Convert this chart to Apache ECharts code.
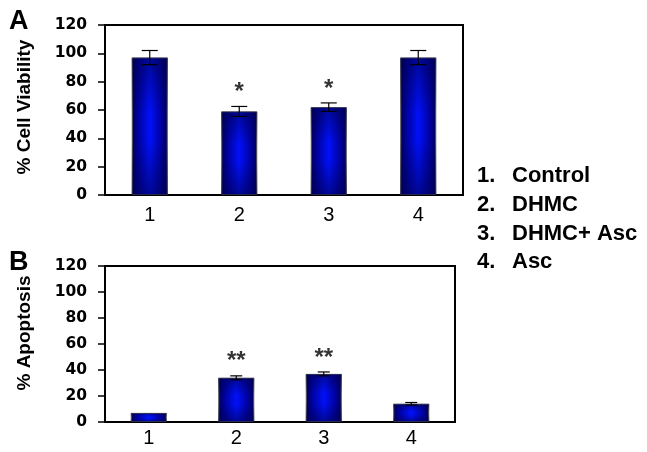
<!DOCTYPE html>
<html><head><meta charset="utf-8">
<script src="https://cdn.jsdelivr.net/npm/echarts@6/dist/echarts.min.js"></script>
<style>html,body{margin:0;padding:0;background:#fff}#c{width:647px;height:452px}</style>
</head><body><div id="c"></div>
<script>
var categories = ['1', '2', '3', '4'];
var viabilityMean = [97, 59, 62, 97];
var viabilityErr = [5, 3.5, 3, 5];
var viabilitySig = ['', '*', '*', ''];
var apoptosisMean = [7, 34, 37, 14];
var apoptosisErr = [0, 1.5, 1.5, 1];
var apoptosisSig = ['', '**', '**', ''];
var yTicks = [0, 20, 40, 60, 80, 100, 120];
var legendNums = ['1.', '2.', '3.', '4.'];
var legendLabels = ['Control', 'DHMC', 'DHMC+ Asc', 'Asc'];
var panelLetters = ['A', 'B'];
var yNames = ['% Cell Viability', '% Apoptosis'];

var chart = echarts.init(document.getElementById('c'), null, {renderer: 'canvas'});
var FONT = 'Liberation Sans, Arial, sans-serif';

var hGrad = new echarts.graphic.LinearGradient(0, 0, 1, 0, [
  {offset: 0, color: '#000050'}, {offset: 0.15, color: '#000096'}, {offset: 0.5, color: '#0010fa'},
  {offset: 0.85, color: '#000096'}, {offset: 1, color: '#000050'}]);
var vGrad = new echarts.graphic.LinearGradient(0, 0, 0, 1, [
  {offset: 0, color: 'rgba(0,0,70,0.55)'}, {offset: 0.4, color: 'rgba(0,0,70,0)'},
  {offset: 0.6, color: 'rgba(0,0,70,0)'}, {offset: 1, color: 'rgba(0,0,70,0.55)'}]);

function errRender(capW) {
  return function (params, api) {
    var x = api.value(0), m = api.value(1), e = api.value(2);
    if (!e) return null;
    var hi = api.coord([x, m + e]), lo = api.coord([x, m - e]);
    var st = {stroke: '#000', lineWidth: 1.2};
    return {type: 'group', children: [
      {type: 'line', shape: {x1: hi[0], y1: hi[1], x2: lo[0], y2: lo[1]}, style: st},
      {type: 'line', shape: {x1: hi[0] - capW / 2, y1: hi[1], x2: hi[0] + capW / 2, y2: hi[1]}, style: st},
      {type: 'line', shape: {x1: lo[0] - capW / 2, y1: lo[1], x2: lo[0] + capW / 2, y2: lo[1]}, style: st}
    ]};
  };
}

function yAxisCfg(gi, name, pad) {
  return {
    type: 'value', gridIndex: gi, min: 0, max: 120, interval: 20,
    name: name, nameLocation: 'middle', nameGap: 71,
    nameTextStyle: {fontFamily: FONT, fontWeight: 'bold', fontSize: 19, color: '#000', padding: pad},
    axisLine: {show: true, lineStyle: {color: '#000', width: 2}},
    axisTick: {show: true, length: 7, lineStyle: {color: '#000', width: 1.5}},
    axisLabel: {margin: 18, fontFamily: 'DejaVu Sans', fontWeight: 'bold', fontSize: 15.5, color: '#000',
      formatter: function (v) { return yTicks.indexOf(v) >= 0 ? String(v) : ''; }},
    splitLine: {show: false}
  };
}
function xAxisCfg(gi, margin) {
  return {
    type: 'category', gridIndex: gi, data: categories,
    axisLine: {show: true, lineStyle: {color: '#000', width: 2}},
    axisTick: {show: false},
    axisLabel: {margin: margin, fontFamily: FONT, fontSize: 20, color: '#000'}
  };
}
function seriesFor(gi, mean, err, sig, capW) {
  var idx = gi;
  return [
    {type: 'bar', xAxisIndex: idx, yAxisIndex: idx, data: mean, barWidth: 36, barGap: '-100%',
      itemStyle: {color: hGrad, borderColor: '#555', borderWidth: 1}, silent: true, z: 2},
    {type: 'bar', xAxisIndex: idx, yAxisIndex: idx, data: mean, barWidth: 36, barGap: '-100%',
      itemStyle: {color: vGrad}, silent: true, z: 3},
    {type: 'custom', xAxisIndex: idx, yAxisIndex: idx, renderItem: errRender(capW), z: 5,
      encode: {x: 0, y: 1},
      data: mean.map(function (m, i) { return [i, m, err[i]]; })},
    {type: 'scatter', xAxisIndex: idx, yAxisIndex: idx, symbolSize: 0, z: 6,
      data: mean.map(function (m, i) { return [i, m + err[i]]; }),
      label: {show: true, position: 'top', distance: 2, fontFamily: FONT, fontWeight: 'bold', fontSize: 24,
        color: '#000', formatter: function (p) { return sig[p.dataIndex]; }}}
  ];
}

var graphics = [
  {type: 'text', left: 9, top: 8, style: {text: panelLetters[0], font: 'bold 27px ' + FONT, fill: '#000'}},
  {type: 'text', left: 9, top: 249, style: {text: panelLetters[1], font: 'bold 27px ' + FONT, fill: '#000'}}
];
var rowY = [176, 205, 234, 262];
for (var i = 0; i < legendLabels.length; i++) {
  graphics.push({type: 'text', x: 477, y: rowY[i], style: {text: legendNums[i], font: 'bold 22px ' + FONT, fill: '#000', verticalAlign: 'middle'}});
  graphics.push({type: 'text', x: 512, y: rowY[i], style: {text: legendLabels[i], font: 'bold 22px ' + FONT, fill: '#000', verticalAlign: 'middle'}});
}

chart.setOption({
  animation: false,
  backgroundColor: '#fff',
  grid: [
    {left: 105, top: 25, width: 358, height: 170, show: true, borderColor: '#000', borderWidth: 2, backgroundColor: 'transparent'},
    {left: 105, top: 266, width: 350, height: 156, show: true, borderColor: '#000', borderWidth: 2, backgroundColor: 'transparent'}
  ],
  xAxis: [xAxisCfg(0, 10), xAxisCfg(1, 6)],
  yAxis: [yAxisCfg(0, yNames[0], [0, 0, 0, 6]), yAxisCfg(1, yNames[1], [0, 0, 0, 22])],
  series: seriesFor(0, viabilityMean, viabilityErr, viabilitySig, 16)
    .concat(seriesFor(1, apoptosisMean, apoptosisErr, apoptosisSig, 12)),
  graphic: graphics
});
</script></body></html>
